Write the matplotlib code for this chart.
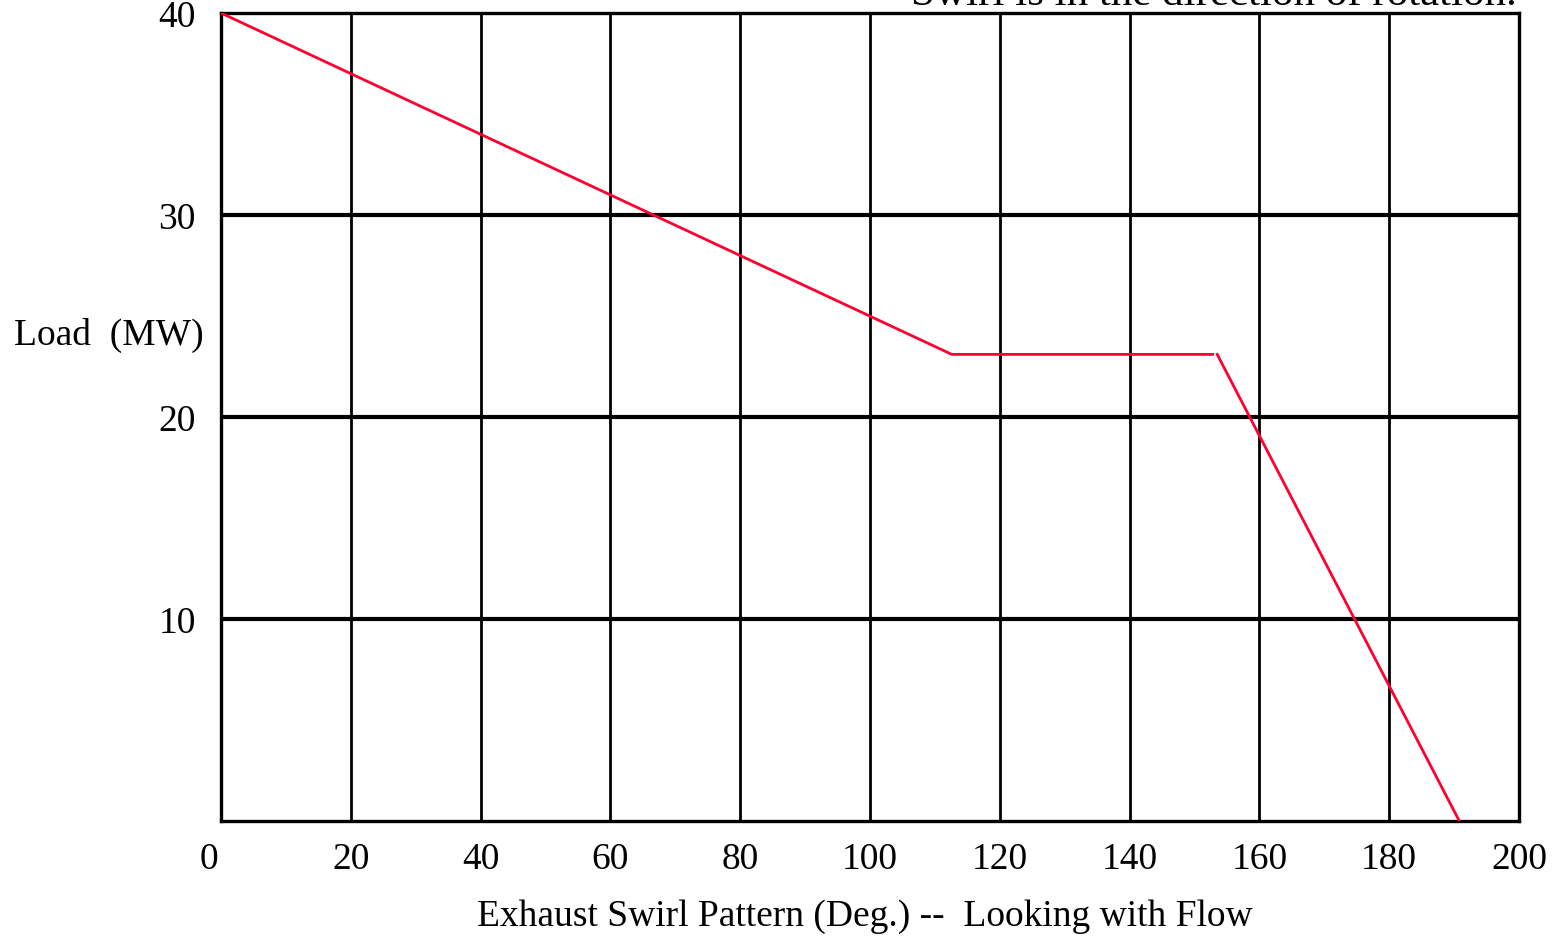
import matplotlib.pyplot as plt
from matplotlib.transforms import ScaledTranslation

# red curve (deg, MW)
seg1_x = [0, 112.6, 152.8]
seg1_y = [40, 23.1, 23.1]
seg2_x = [153.5, 190.8]
seg2_y = [23.1, 0]

x_ticks = [0, 20, 40, 60, 80, 100, 120, 140, 160, 180, 200]
y_ticks = [10, 20, 30, 40]
y_grid = [10, 20, 30]
x_grid = [20, 40, 60, 80, 100, 120, 140, 160, 180]

title = "Swirl is in the direction of rotation."
xlabel = "Exhaust Swirl Pattern (Deg.) --  Looking with Flow"
ylabel = "Load  (MW)"


def main():
    plt.rcParams['font.family'] = ['Liberation Serif', 'DejaVu Serif']
    fig = plt.figure(figsize=(15.64, 9.37), dpi=100)
    ax = fig.add_axes([221 / 1564, 1 - 822 / 937, 1298 / 1564, 808 / 937])
    ax.set_xlim(0, 200)
    ax.set_ylim(0, 40)

    for x in x_grid:
        ax.axvline(x, color="black", lw=2, zorder=1)
    for y in y_grid:
        ax.axhline(y, color="black", lw=3, zorder=1)

    ax.plot(seg1_x, seg1_y, color="#ff0030", lw=2, zorder=3)
    ax.plot(seg2_x, seg2_y, color="#ff0030", lw=2, zorder=3)

    for s in ax.spines.values():
        s.set_linewidth(2.4)
    ax.tick_params(length=0, labelsize=27)
    ax.tick_params(axis="x", pad=15)
    ax.tick_params(axis="y", pad=18)
    ax.set_xticks(x_ticks)
    ax.set_xticklabels([str(v) for v in x_ticks])
    ax.set_yticks(y_ticks)
    ax.set_yticklabels([str(v) for v in y_ticks])
    # the "0" sits a little to the left of the axis corner
    lab0 = ax.get_xticklabels()[0]
    lab0.set_transform(lab0.get_transform() + ScaledTranslation(-0.12, 0, fig.dpi_scale_trans))

    fig.text(865 / 1564, 1 - 917 / 937, xlabel, ha="center", va="center", fontsize=27)
    fig.text(14 / 1564, 1 - 335 / 937, ylabel, ha="left", va="center", fontsize=27)
    # title is clipped by the top edge, as in the source image
    fig.text(1517 / 1564, 1 - 5 / 937, title, ha="right", va="baseline", fontsize=31)

    fig.savefig("out.png", dpi=100)
    plt.close()


if __name__ == "__main__":
    main()
